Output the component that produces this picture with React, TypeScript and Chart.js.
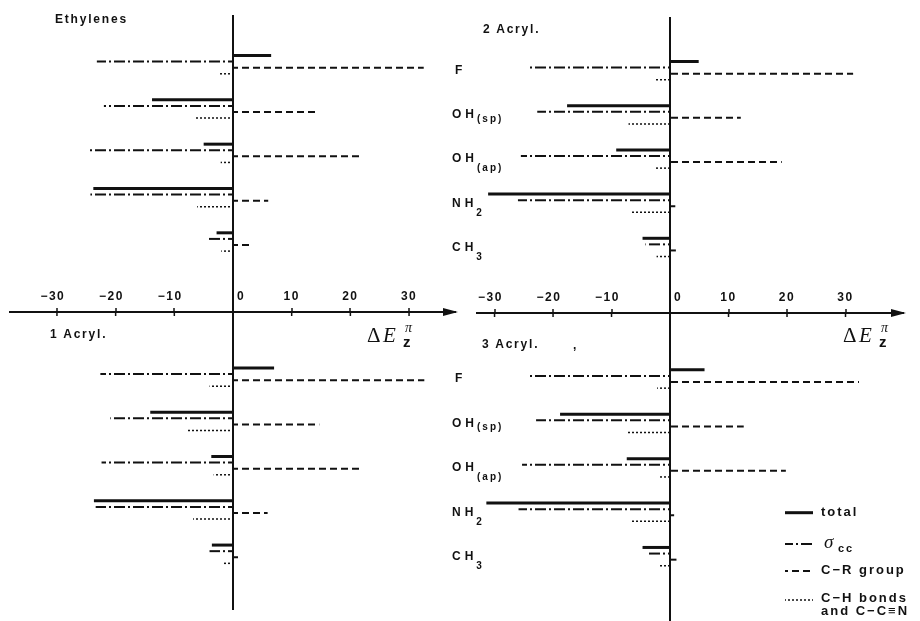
import React, { useEffect, useRef } from 'react';
import { Chart, registerables } from 'chart.js';

Chart.register(...registerables);

// ---------------- data ----------------
const substituents = ['F', 'OH(sp)', 'OH(ap)', 'NH2', 'CH3'];
const seriesNames = ['total', 'σcc', 'C−R group', 'C−H bonds and C−C≡N'];
const xTickValues = [-30, -20, -10, 0, 10, 20, 30];

const ethylenesTotal = [6.5, -13.8, -5.0, -23.8, -2.8];
const ethylenesSigmaCC = [-23.2, -22.0, -24.6, -24.3, -4.5];
const ethylenesCR = [32.5, 14.6, 21.5, 6.0, 3.1];
const ethylenesCH = [-2.3, -6.6, -2.1, -6.1, -2.0];

const acryl2Total = [4.9, -17.6, -9.2, -31.1, -4.7];
const acryl2SigmaCC = [-24.3, -22.7, -25.5, -26.0, -4.2];
const acryl2CR = [31.3, 12.1, 19.1, 0.9, 1.0];
const acryl2CH = [-2.6, -7.1, -2.4, -6.8, -2.3];

const acryl1Total = [7.0, -14.1, -3.7, -23.7, -3.6];
const acryl1SigmaCC = [-22.6, -20.9, -22.4, -23.4, -4.0];
const acryl1CR = [32.6, 14.7, 21.6, 5.9, 1.5];
const acryl1CH = [-4.0, -7.9, -3.3, -6.8, -1.7];

const acryl3Total = [5.9, -18.8, -7.4, -31.4, -4.7];
const acryl3SigmaCC = [-24.0, -22.9, -25.3, -25.9, -4.0];
const acryl3CR = [32.3, 12.6, 19.8, 0.7, 1.1];
const acryl3CH = [-2.2, -7.2, -2.0, -6.7, -2.0];

// ---------------- styles / layout ----------------
const INK = '#111';
const SANS = '"Liberation Sans", Arial, Helvetica, sans-serif';
const SERIF = '"Liberation Serif", "Times New Roman", serif';

// line styles: segments [start, length] within a repeating period
const lineStyles = [
  { segs: null, period: 1, thickness: 3 },
  { segs: [[0, 11], [14, 2]], period: 19, thickness: 2 },
  { segs: [[0, 7]], period: 11, thickness: 2 },
  { segs: [[0, 2]], period: 4, thickness: 1.5 },
];

const labelParts = [
  { main: 'F', sub: '', drop: 0 },
  { main: 'OH', sub: '(sp)', drop: 4 },
  { main: 'OH', sub: '(ap)', drop: 9 },
  { main: 'NH', sub: '2', drop: 10 },
  { main: 'CH', sub: '3', drop: 10 },
];

const panels = [
  {
    key: 'eth', title: 'Ethylenes', titleX: 55, titleBase: 23.5,
    series: [ethylenesTotal, ethylenesSigmaCC, ethylenesCR, ethylenesCH],
    box: { left: 0, top: 0, width: 460, height: 312 },
    padding: { left: 10, right: 4, top: 15, bottom: 0 },
    xr: { min: -38, max: 38 }, yr: { min: -1.12, max: 5.58 },
    axis: false, labels: false, legend: false,
  },
  {
    key: 'a2', title: '2 Acryl.', titleX: 483, titleBase: 33.3,
    series: [acryl2Total, acryl2SigmaCC, acryl2CR, acryl2CH],
    box: { left: 440, top: 0, width: 480, height: 313 },
    padding: { left: 37, right: 16, top: 17, bottom: 0 },
    xr: { min: -33, max: 40 }, yr: { min: -1.213, max: 5.484 },
    axis: false, labels: true, legend: false,
  },
  {
    key: 'a1', title: '1 Acryl.', titleX: 50, titleBase: 338.3,
    series: [acryl1Total, acryl1SigmaCC, acryl1CR, acryl1CH],
    box: { left: 0, top: 280, width: 460, height: 341 },
    padding: { left: 10, right: 4, top: 5.6, bottom: 11 },
    xr: { min: -38, max: 38 }, yr: { min: -1.47, max: 5.26 },
    axis: true, labels: false, legend: false,
  },
  {
    key: 'a3', title: '3 Acryl.', titleX: 482, titleBase: 347.7,
    series: [acryl3Total, acryl3SigmaCC, acryl3CR, acryl3CH],
    box: { left: 440, top: 280, width: 480, height: 341 },
    padding: { left: 37, right: 16, top: 6.6, bottom: 0 },
    xr: { min: -33, max: 40 }, yr: { min: -1.486, max: 5.45 },
    axis: true, labels: true, legend: true,
  },
];

// legend layout (canvas coordinates of the bottom-right chart)
const legendLayout = {
  sampleX: 345, sampleW: 28, textX: 381,
  sampleY: [232.7, 264, 291, 320],
  textY: [236, 268, 294, 322],
};

function makeFill(ctx: CanvasRenderingContext2D, st: any) {
  if (!st.segs) return INK;
  const c = document.createElement('canvas');
  c.width = st.period;
  c.height = 4;
  const g = c.getContext('2d')!;
  g.fillStyle = INK;
  st.segs.forEach(([s, l]: number[]) => g.fillRect(s, 0, l, 4));
  return ctx.createPattern(c, 'repeat') || INK;
}

function fmtTick(v: number) {
  if (v === 0) return '\u2007\u20070';
  // digits centred on the tick, minus sign hanging to the left
  return v < 0 ? '\u2212' + Math.abs(v) + '\u2007' : String(v);
}

const panelPlugin = {
  id: 'paperPanel',
  beforeDraw(chart: any) {
    (chart.ctx as any).letterSpacing = '1.5px';
  },
  afterDraw(chart: any, _args: any, opts: any) {
    const { ctx, chartArea } = chart;
    ctx.save();
    ctx.fillStyle = INK;
    if (opts.arrow) {
      const tip = chartArea.right + 2;
      const y = chartArea.top;
      ctx.beginPath();
      ctx.moveTo(tip, y);
      ctx.lineTo(tip - 15, y - 4);
      ctx.lineTo(tip - 15, y + 4);
      ctx.closePath();
      ctx.fill();
      // tick marks continue a little below the axis line
      const xs = chart.scales.x;
      xTickValues.forEach((v) => {
        if (v === 0) return;
        const px = xs.getPixelForValue(v);
        ctx.fillRect(px - 0.75, y, 1.5, 4);
      });
    }
    if (opts.labels) {
      const ys = chart.scales.y;
      const x0 = chartArea.left - 25;
      ctx.textBaseline = 'middle';
      ctx.textAlign = 'left';
      substituents.forEach((_s, i) => {
        const p = labelParts[i];
        const y = ys.getPixelForValue(i);
        ctx.font = `bold 12px ${SANS}`;
        ctx.letterSpacing = '4px';
        ctx.fillText(p.main, x0 + (p.main.length === 1 ? 3 : 0), y);
        const w = ctx.measureText(p.main).width;
        if (p.sub) {
          ctx.font = `bold 10px ${SANS}`;
          ctx.letterSpacing = '2px';
          ctx.fillText(p.sub, x0 + w - 1, y + p.drop);
        }
      });
    }
    if (opts.legend) {
      const L = legendLayout;
      chart.data.datasets.forEach((ds: any, i: number) => {
        const th = lineStyles[i].thickness;
        ctx.fillStyle = ds.backgroundColor;
        ctx.fillRect(L.sampleX, L.sampleY[i] - th / 2, L.sampleW, th);
      });
      ctx.fillStyle = INK;
      ctx.textBaseline = 'alphabetic';
      ctx.textAlign = 'left';
      const bold = `bold 13px ${SANS}`;
      ctx.letterSpacing = '2px';
      ctx.font = bold;
      ctx.fillText(seriesNames[0], L.textX, L.textY[0]);
      // sigma_cc
      ctx.font = `italic 19px ${SERIF}`;
      ctx.letterSpacing = '0px';
      ctx.fillText('σ', L.textX + 3, L.textY[1]);
      ctx.font = `bold 11px ${SANS}`;
      ctx.letterSpacing = '2px';
      ctx.fillText('cc', L.textX + 17, L.textY[1] + 4);
      ctx.font = bold;
      ctx.fillText(seriesNames[2], L.textX, L.textY[2]);
      const parts = seriesNames[3].split(' and ');
      ctx.fillText(parts[0], L.textX, L.textY[3]);
      ctx.fillText('and ' + parts[1], L.textX, L.textY[3] + 13);
    }
    ctx.restore();
    (ctx as any).letterSpacing = '0px';
  },
};

function Panel({ cfg }: { cfg: any }) {
  const ref = useRef<HTMLCanvasElement>(null);
  useEffect(() => {
    const canvas = ref.current!;
    const ctx = canvas.getContext('2d')!;
    const fills = lineStyles.map((s) => makeFill(ctx, s));
    const datasets = cfg.series.map((vals: number[], si: number) => ({
      label: seriesNames[si],
      data: vals.map((v, i) => ({ x: v, y: i })),
      backgroundColor: fills[si],
      borderWidth: 0,
      maxBarThickness: lineStyles[si].thickness,
      categoryPercentage: 0.55,
      barPercentage: 1,
    }));
    const chart = new Chart(canvas, {
      type: 'bar',
      data: { labels: substituents, datasets },
      options: {
        indexAxis: 'y',
        responsive: false,
        animation: false,
        events: [],
        layout: { padding: cfg.padding },
        plugins: {
          legend: { display: false },
          tooltip: { enabled: false },
          paperPanel: { arrow: cfg.axis, labels: cfg.labels, legend: cfg.legend },
        } as any,
        scales: {
          x: {
            type: 'linear',
            position: 'top',
            min: cfg.xr.min,
            max: cfg.xr.max,
            afterBuildTicks: (s: any) => {
              s.ticks = xTickValues.map((v) => ({ value: v }));
            },
            grid: {
              display: true,
              drawOnChartArea: true,
              drawTicks: cfg.axis,
              tickLength: 4,
              color: (c: any) => (c.tick && c.tick.value === 0 ? INK : 'rgba(0,0,0,0)'),
              lineWidth: (c: any) => (c.tick && c.tick.value === 0 ? 2 : 0),
              tickColor: INK,
              tickWidth: 1.5,
            },
            border: { display: cfg.axis, color: INK, width: 2 },
            ticks: {
              display: cfg.axis,
              padding: 4,
              autoSkip: false,
              maxRotation: 0,
              color: INK,
              font: { family: SANS, weight: 'bold', size: 12 },
              callback: (v: any) => fmtTick(Number(v)),
            },
          },
          y: {
            type: 'linear',
            display: false,
            offset: false,
            reverse: true,
            min: cfg.yr.min,
            max: cfg.yr.max,
            grid: { offset: false },
            afterBuildTicks: (s: any) => {
              s.ticks = substituents.map((_x, i) => ({ value: i }));
            },
          },
        },
      } as any,
      plugins: [panelPlugin as any],
    });
    return () => chart.destroy();
  }, []);
  return (
    <canvas
      ref={ref}
      width={cfg.box.width}
      height={cfg.box.height}
      style={{ position: 'absolute', left: cfg.box.left, top: cfg.box.top, width: cfg.box.width, height: cfg.box.height }}
    />
  );
}

function Txt(props: any) {
  const { x, base, size, family = SANS, weight = 'normal', italic = false, spacing = 'normal', children } = props;
  const asc = family === SERIF ? 0.8375 : 0.8465;
  return (
    <div
      style={{
        position: 'absolute', left: x, top: base - asc * size, fontSize: size, lineHeight: `${size}px`,
        fontFamily: family, fontWeight: weight, fontStyle: italic ? 'italic' : 'normal',
        letterSpacing: spacing, whiteSpace: 'nowrap', color: INK,
      }}
    >
      {children}
    </div>
  );
}

function DeltaE({ x, base }: { x: number; base: number }) {
  return (
    <>
      <Txt x={x} base={base} size={21} family={SERIF}>Δ</Txt>
      <Txt x={x + 16} base={base} size={21} family={SERIF} italic>E</Txt>
      <Txt x={x + 38} base={base - 10} size={14} family={SERIF} italic>π</Txt>
      <Txt x={x + 36} base={base + 4} size={15} weight="bold">z</Txt>
    </>
  );
}

export default function App() {
  useEffect(() => {
    document.body.style.margin = '0';
  }, []);
  return (
    <div style={{ position: 'relative', width: 920, height: 621, background: '#fff', overflow: 'hidden' }}>
      {panels.map((p) => (
        <Panel key={p.key} cfg={p} />
      ))}
      {panels.map((p) => (
        <Txt key={'t' + p.key} x={p.titleX} base={p.titleBase} size={12} weight="bold" spacing="1.8px">
          {p.title}
        </Txt>
      ))}
      <Txt x={573} base={349} size={12} weight="bold">,</Txt>
      <DeltaE x={367} base={343} />
      <DeltaE x={843} base={343} />
    </div>
  );
}
